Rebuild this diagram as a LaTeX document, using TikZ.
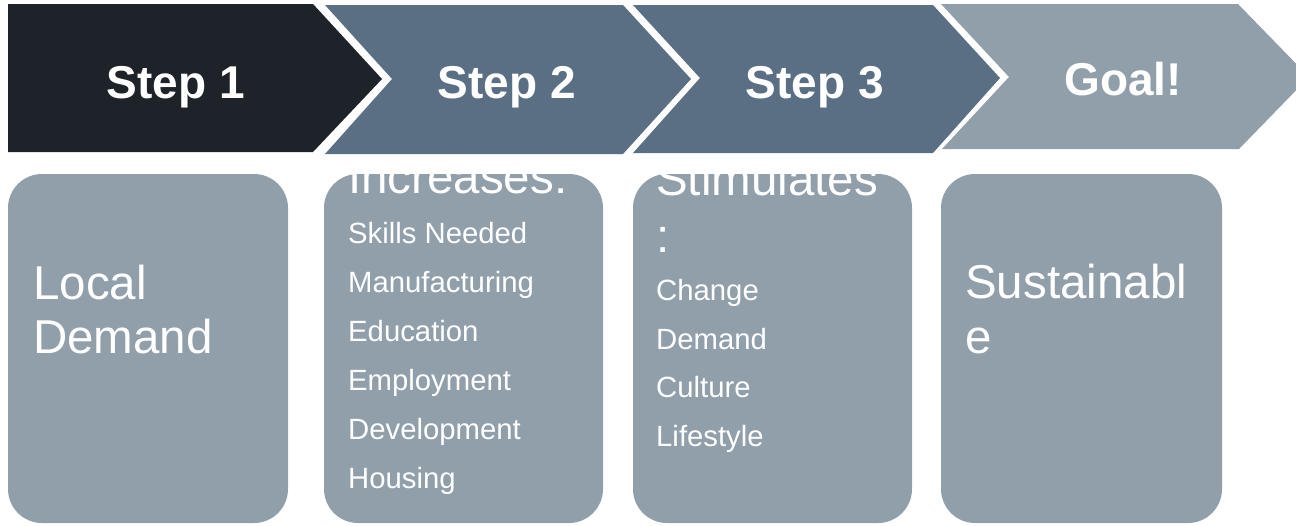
\documentclass[tikz,border=0pt]{standalone}
\usepackage{fontspec}
\setmainfont{Liberation Sans}
\definecolor{chevdark}{HTML}{1E2229}
\definecolor{chevmid}{HTML}{5B6F84}
\definecolor{chevlight}{HTML}{919FAA}
\definecolor{boxfill}{HTML}{919FAA}
\tikzset{
  steplabel/.style={text=white, font=\fontsize{46}{54}\selectfont\bfseries, anchor=base, inner sep=0pt},
  boxtitle/.style={text=white, font=\fontsize{47.5}{54}\selectfont, anchor=base west, inner sep=0pt},
  boxitem/.style={text=white, font=\fontsize{29.3}{35}\selectfont, anchor=base west, inner sep=0pt},
  cardbox/.style={fill=boxfill, rounded corners=34pt},
}
\begin{document}
\begin{tikzpicture}[x=1pt,y=-1pt]
\useasboundingbox (0,0) rectangle (1296,525);
\begin{scope}
\clip (0,0) rectangle (1296,525);
% chevrons
\fill[chevdark] (8,4) -- (313,4) -- (382,79) -- (313,152) -- (8,152) -- cycle;
\fill[chevmid] (325,5) -- (623,5) -- (691,79) -- (623,154) -- (325,154) -- (392,79) -- cycle;
\fill[chevmid] (633,5) -- (933,5) -- (1000,78) -- (933,153) -- (633,153) -- (700,78) -- cycle;
\fill[chevlight] (941,4) -- (1238,4) -- (1309,77) -- (1239,149) -- (942,149) -- (1009,77) -- cycle;
\end{scope}
\node[steplabel] (s1) at (176,98) {Step 1};
\node[steplabel] (s2) at (507,98) {Step 2};
\node[steplabel] (s3) at (815,98) {Step 3};
\node[steplabel] (s4) at (1123,95) {Goal!};
% boxes
\fill[cardbox] (8,174) rectangle (288,523);
\fill[cardbox] (324,174) rectangle (603,523);
\fill[cardbox] (633,174) rectangle (912,523);
\fill[cardbox] (941,174) rectangle (1222,523);
% box 1
\node[boxtitle] (b1a) at (33,299) {Local};
\node[boxtitle] (b1b) at (33,353) {Demand};
% box 2
\node[boxtitle] (b2t) at (348,193) {Increases:};
\node[boxitem] (b2a) at (348,243) {Skills Needed};
\node[boxitem] (b2b) at (348,292) {Manufacturing};
\node[boxitem] (b2c) at (348,341) {Education};
\node[boxitem] (b2d) at (348,390) {Employment};
\node[boxitem] (b2e) at (348,439) {Development};
\node[boxitem] (b2f) at (348,488) {Housing};
% box 3
\node[boxtitle] (b3t) at (656,195) {Stimulates};
\node[boxtitle] (b3c) at (656,252) {:};
\node[boxitem] (b3a) at (656,300) {Change};
\node[boxitem] (b3b) at (656,349) {Demand};
\node[boxitem] (b3d) at (656,397) {Culture};
\node[boxitem] (b3e) at (656,446) {Lifestyle};
% box 4
\node[boxtitle] (b4a) at (965,298) {Sustainabl};
\node[boxtitle] (b4b) at (965,353) {e};
\end{tikzpicture}
\end{document}
